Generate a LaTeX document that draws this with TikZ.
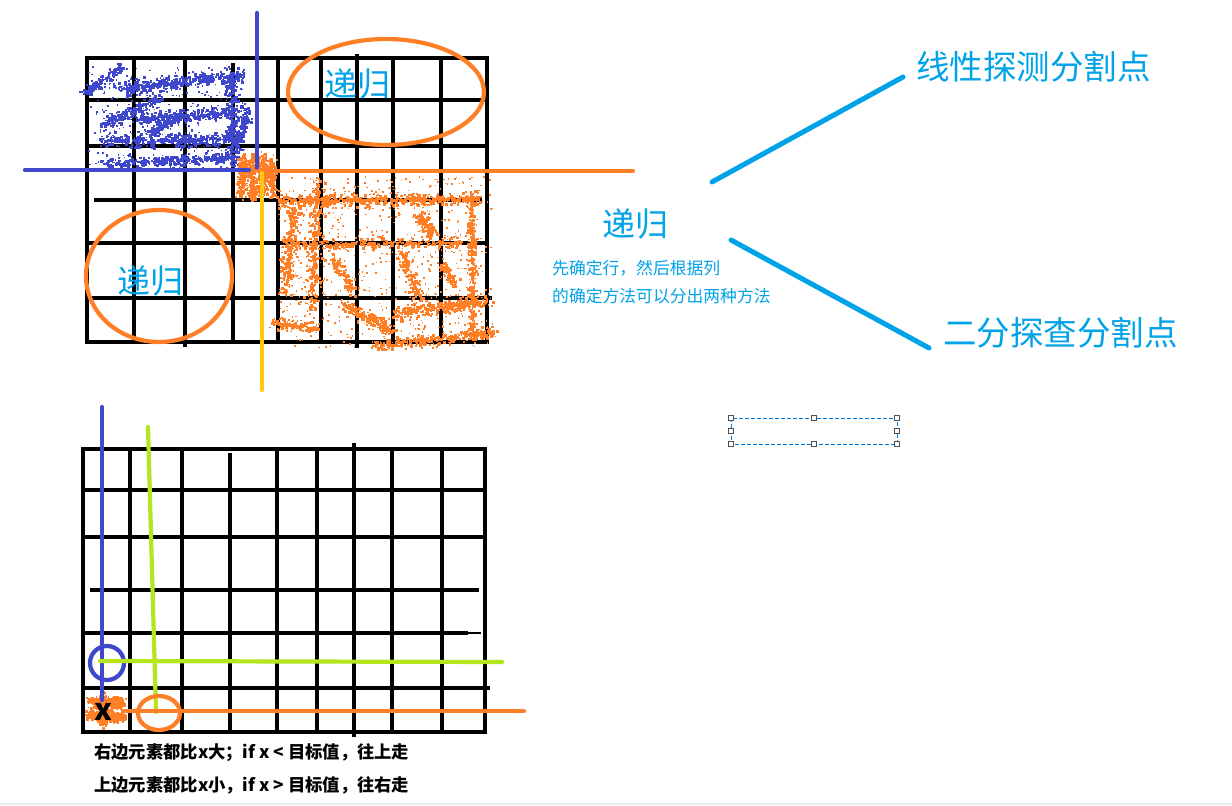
\documentclass[tikz,border=0pt]{standalone}
\usepackage{fontspec}
\newfontfamily\cjk{Noto Sans CJK SC}
\definecolor{pblue}{RGB}{63,72,204}
\definecolor{porange}{RGB}{255,127,39}
\definecolor{pyellow}{RGB}{255,201,14}
\definecolor{plime}{RGB}{181,230,29}
\definecolor{tblue}{RGB}{0,162,232}
\definecolor{selblue}{RGB}{0,120,215}
\definecolor{handlegray}{RGB}{80,80,80}
\definecolor{edgegray}{RGB}{235,235,235}

% spray along a stroke: color, x1, y1, x2, y2, count, spread
\newcommand{\sprayline}[7]{%
 \foreach \k in {1,...,#6}{%
  \pgfmathsetmacro{\sT}{rnd}%
  \pgfmathsetmacro{\sX}{#2+(#4-#2)*\sT+#7*rand*rnd}%
  \pgfmathsetmacro{\sY}{#3+(#5-#3)*\sT+#7*rand*rnd}%
  \pgfmathsetmacro{\sS}{1.3+2*rnd}%
  \fill[#1] (\sX,\sY) rectangle ++(\sS,\sS);%
 }}
% uniform scatter in a box: color, x1, y1, x2, y2, count
\newcommand{\sprayarea}[6]{%
 \foreach \k in {1,...,#6}{%
  \pgfmathsetmacro{\sX}{#2+(#4-#2)*rnd}%
  \pgfmathsetmacro{\sY}{#3+(#5-#3)*rnd}%
  \fill[#1] (\sX,\sY) rectangle ++(1.6,1.6);%
 }}

\tikzset{
  gridline/.style={line width=4.6pt, black, line cap=rect},
  pen/.style={line width=4.2pt, line cap=round},
  rec/.style={font=\cjk\fontsize{33}{33}\selectfont, text=tblue, inner sep=0pt},
  biglabel/.style={font=\cjk\fontsize{33.5}{33.5}\selectfont, text=tblue, inner sep=0pt, anchor=west},
  smalltxt/.style={font=\cjk\fontsize{16.8}{16.8}\selectfont, text=tblue, inner sep=0pt, anchor=west},
  rule/.style={font=\cjk\bfseries\fontsize{17.3}{17.3}\selectfont, text=black, inner sep=0pt, anchor=west},
  connector/.style={line width=5pt, tblue, line cap=round},
  handlebox/.style={draw=handlegray, fill=white, line width=1pt, minimum size=4.5pt, inner sep=0pt, rectangle},
}

\begin{document}
\begin{tikzpicture}[x=1pt, y=-1pt]
\useasboundingbox (0,0) rectangle (1232,806);
\fill[white] (0,0) rectangle (1232,806);
\draw[edgegray, line width=1.5pt] (0,804) -- (1232,804);
\pgfmathsetseed{4242}

% ---------------- top grid ----------------
\foreach \x in {87,134,278,321,393,441,487} \draw[gridline] (\x,58) -- (\x,342);
\draw[gridline] (185,58) -- (185,345);
\draw[gridline] (233,65) -- (233,340);
\draw[gridline] (357,56) -- (357,346);
\draw[gridline] (87,58) -- (487,58);
\draw[gridline] (87,100) -- (487,100);
\draw[gridline] (91,146) -- (487,146);
\draw[gridline] (96,200) -- (480,200);
\draw[gridline] (87,243) -- (484,243);
\draw[gridline] (87,298) -- (490,298);
\draw[gridline] (87,342) -- (487,342);

% blue spray (top-left region)
\sprayline{pblue}{83}{92}{122}{66}{130}{7}
\sprayline{pblue}{118}{88}{242}{74}{420}{10}
\sprayline{pblue}{231}{72}{231}{166}{260}{8}
\sprayline{pblue}{103}{124}{158}{98}{170}{8}
\sprayline{pblue}{105}{140}{232}{138}{380}{10}
\sprayline{pblue}{135}{118}{230}{112}{260}{8}
\sprayline{pblue}{100}{163}{228}{157}{300}{8}
\sprayline{pblue}{247}{106}{235}{150}{130}{7}
\sprayline{pblue}{150}{132}{182}{112}{140}{7}
\sprayarea{pblue}{88}{66}{245}{168}{300}

% orange spray (bottom-right region)
\sprayline{porange}{242}{156}{240}{196}{170}{7}
\sprayline{porange}{252}{154}{250}{197}{190}{7}
\sprayline{porange}{262}{155}{262}{196}{170}{7}
\sprayline{porange}{270}{158}{272}{195}{130}{7}
\sprayline{porange}{277}{200}{478}{198}{520}{8}
\sprayline{porange}{470}{196}{472}{330}{300}{6}
\sprayline{porange}{293}{205}{285}{293}{230}{9}
\sprayline{porange}{317}{183}{310}{307}{260}{9}
\sprayline{porange}{283}{244}{463}{242}{260}{9}
\sprayline{porange}{418}{215}{430}{232}{110}{8}
\sprayline{porange}{345}{305}{392}{330}{190}{9}
\sprayline{porange}{393}{312}{470}{302}{180}{9}
\sprayline{porange}{373}{345}{493}{332}{300}{8}
\sprayline{porange}{270}{322}{317}{327}{120}{7}
\sprayline{porange}{400}{250}{420}{300}{140}{9}
\sprayline{porange}{440}{305}{490}{300}{100}{7}
\sprayline{porange}{330}{260}{355}{290}{90}{9}
\sprayline{porange}{440}{262}{455}{285}{70}{8}
\sprayarea{porange}{278}{176}{492}{348}{700}

% colored strokes (top)
\draw[pen, pblue] (257,13) -- (257,168);
\draw[pen, pblue] (25,170) -- (249,170);
\draw[pen, porange] (258,171) -- (633,171);
\draw[pen, pyellow] (262,173) -- (262,390);
\draw[line width=4.2pt, porange] (386,92) ellipse [x radius=98, y radius=53];
\draw[line width=4.2pt, porange] (159,276) ellipse [x radius=73, y radius=66];

\node[rec] (recTop) at (357,84) {递归};
\node[rec] (recLeft) at (150,281) {递归};

% ---------------- right side ----------------
\node[rec] (recMid) at (635,224) {递归};
\node[smalltxt] (note1) at (552,268) {先确定行，然后根据列};
\node[smalltxt] (note2) at (552,296) {的确定方法可以分出两种方法};
\node[biglabel] (linear) at (916,67) {线性探测分割点};
\node[biglabel] (binary) at (943,333) {二分探查分割点};
\coordinate (upA) at (712,182);
\coordinate (upB) at (903,77);
\coordinate (dnA) at (731,240);
\coordinate (dnB) at (929,348);
\draw[connector] (upA) -- (upB);
\draw[connector] (dnA) -- (dnB);

% selection box with handles
\draw[selblue, line width=1pt, dash pattern=on 4pt off 2pt] (731,418) rectangle (897,444);
\foreach \hx/\hy/\hn in {731/418/h1, 814/418/h2, 897/418/h3, 731/431/h4, 897/431/h5, 731/444/h6, 814/444/h7, 897/444/h8}
  \node[handlebox] (\hn) at (\hx,\hy) {};

% ---------------- bottom grid ----------------
\foreach \x in {83,130,182,277,317,392,442,485} \draw[gridline] (\x,449) -- (\x,732);
\draw[gridline] (230,455) -- (230,730);
\draw[gridline] (354,445) -- (354,735);
\draw[gridline] (83,449) -- (485,449);
\draw[gridline] (83,490) -- (485,490);
\draw[gridline] (87,537) -- (485,537);
\draw[gridline] (92,590) -- (477,590);
\draw[gridline] (83,633) -- (466,633);
\draw[black, line width=2.5pt] (466,633) -- (481,633);
\draw[gridline] (83,688) -- (488,688);
\draw[gridline] (83,732) -- (485,732);

% orange blob under x
\sprayline{porange}{91}{702}{121}{702}{300}{7}
\sprayline{porange}{89}{714}{122}{716}{340}{7}
\sprayline{porange}{104}{695}{104}{722}{160}{8}

\draw[pen, pblue] (102,407) -- (102,700);
\draw[line width=4.2pt, pblue] (107,663) circle [radius=17];
\draw[pen, plime] (148,427) -- (156,712);
\draw[pen, plime] (100,661) -- (502,662);
\draw[pen, porange] (123,711) -- (524,711);
\draw[line width=4.2pt, porange] (159,713) ellipse [x radius=21, y radius=17];

\node[font=\cjk\bfseries\fontsize{30}{30}\selectfont, inner sep=0pt] (xmark) at (103,712) {x};

\node[rule] (rule1) at (94,753) {右边元素都比x大；if x < 目标值，往上走};
\node[rule] (rule2) at (94,785) {上边元素都比x小，if x > 目标值，往右走};
\end{tikzpicture}
\end{document}
